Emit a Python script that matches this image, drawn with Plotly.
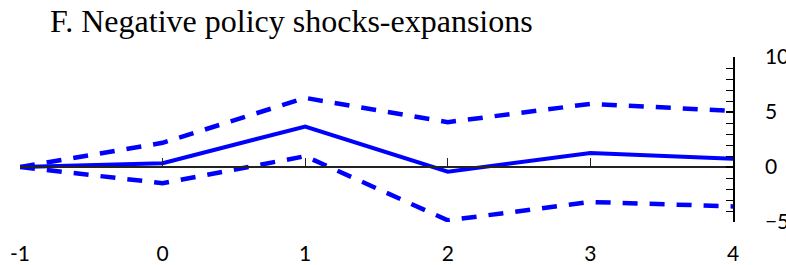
import plotly.graph_objects as go

horizons = [-1, 0, 1, 2, 3, 4]
response = [0.0, 0.35, 3.68, -0.42, 1.27, 0.74]
upper_band = [0.0, 2.2, 6.28, 4.08, 5.74, 5.1]
lower_band = [0.0, -1.47, 0.98, -4.85, -3.18, -3.58]
x_ticks = [-1, 0, 1, 2, 3, 4]
y_ticks = [-5, 0, 5, 10]
title_text = "F. Negative policy shocks-expansions"

BLUE = "#0000FF"
fig = go.Figure()
for vals in (upper_band, lower_band):
    fig.add_trace(go.Scatter(x=horizons, y=vals, mode="lines",
                             line=dict(color=BLUE, width=4.5, dash="15px,12px"),
                             hoverinfo="skip", showlegend=False, cliponaxis=False))
fig.add_trace(go.Scatter(x=horizons, y=response, mode="lines",
                         line=dict(color=BLUE, width=4),
                         showlegend=False, cliponaxis=False))

tick_font = dict(family="Lato", size=21, color="black")
fig.update_layout(
    width=786, height=265,
    margin=dict(l=20, r=53, t=57, b=43, autoexpand=False),
    paper_bgcolor="white", plot_bgcolor="white",
    title=dict(text=title_text, x=50/786, xref="container", xanchor="left",
               y=1-10/265, yref="container", yanchor="top",
               font=dict(family="Liberation Serif", size=32, color="black")),
    xaxis=dict(range=[-1, 4], tickvals=x_ticks, ticktext=[str(v) for v in x_ticks],
               showgrid=False, zeroline=False, showline=False, ticks="",
               tickfont=tick_font, ticklabelstandoff=17, automargin=False,
               ticklabeloverflow="allow"),
    xaxis2=dict(range=[-1, 4], overlaying="x", anchor="free", position=1/3,
                tickvals=x_ticks, showticklabels=False, showgrid=False,
                zeroline=False, showline=True, linecolor="#222222", linewidth=1.5,
                ticks="inside", ticklen=8, tickcolor="#222222", tickwidth=1.2, side="bottom",
                automargin=False),
    yaxis=dict(range=[-5, 10], side="right", tickvals=y_ticks,
               showgrid=False, zeroline=False, showline=True, linecolor="black", linewidth=1.5,
               ticks="inside", ticklen=7, tickcolor="black", tickwidth=1.5,
               minor=dict(dtick=1, tick0=0, ticks="inside", ticklen=7, tickcolor="black", tickwidth=1.2),
               tickfont=tick_font, ticklabelstandoff=26, automargin=False,
               ticklabeloverflow="allow"),
)
fig.add_trace(go.Scatter(x=[-1, 4], y=[0, 0], xaxis="x2", mode="lines",
                         line=dict(width=0), hoverinfo="skip", showlegend=False))
fig.write_html("out.html", config={"displayModeBar": False},
               post_script="document.body.style.margin='0';")
